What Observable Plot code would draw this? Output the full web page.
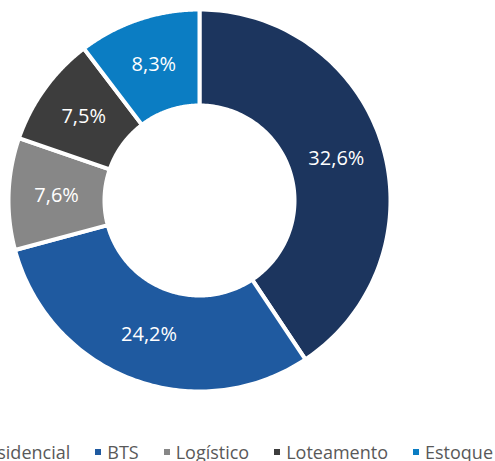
<!DOCTYPE html>
<html><head><meta charset="utf-8">
<script src="https://cdn.jsdelivr.net/npm/d3@7"></script>
<script src="https://cdn.jsdelivr.net/npm/@observablehq/plot@0.6"></script>
<style>
html,body{margin:0;padding:0;background:#fff;overflow:hidden;width:495px;height:461px;position:relative;font-family:"Open Sans",sans-serif}
#legend{position:absolute;right:2px;top:441px;width:max-content;display:flex;align-items:center;white-space:nowrap;font-size:18px;line-height:22px;color:#595959}
#legend .item{display:flex;align-items:center;margin-left:25px;flex:none}
#legend .sw{width:6px;height:6px;margin-right:6px;flex:none}
</style></head><body><div id="chart"></div><div id="legend"></div>
<script>
const categories = ["Residencial", "BTS", "Logístico", "Loteamento", "Estoque"];
const values = [32.6, 24.2, 7.6, 7.5, 8.3];
const labels = ["32,6%", "24,2%", "7,6%", "7,5%", "8,3%"];
const colors = ["#1c355e", "#1f5aa0", "#878787", "#3d3d3d", "#0b7dc3"];

const rOuter = 1, rInner = 95 / 191;
const pie = d3.pie().sort(null).value(d => d.value);
const arcs = pie(categories.map((c, i) => ({cat: c, value: values[i], label: labels[i]})));

const pts = [];
arcs.forEach(a => {
  const n = 120;
  for (let k = 0; k <= n; k++) {
    const t = a.startAngle + (a.endAngle - a.startAngle) * k / n;
    pts.push({cat: a.data.cat, x: rOuter * Math.sin(t), y: rOuter * Math.cos(t)});
  }
  for (let k = n; k >= 0; k--) {
    const t = a.startAngle + (a.endAngle - a.startAngle) * k / n;
    pts.push({cat: a.data.cat, x: rInner * Math.sin(t), y: rInner * Math.cos(t)});
  }
});
const rMid = (rOuter + rInner) / 2;
const lab = arcs.map(a => {
  const t = (a.startAngle + a.endAngle) / 2;
  return {label: a.data.label, x: rMid * Math.sin(t), y: rMid * Math.cos(t)};
});

const chart = Plot.plot({
  width: 495, height: 420,
  margin: 0,
  style: {background: "#fff"},
  x: {domain: [-1, 1], range: [199 - 191, 199 + 191], axis: null},
  y: {domain: [-1, 1], range: [200 + 191, 200 - 191], axis: null},
  color: {domain: categories, range: colors},
  marks: [
    Plot.line(pts, {x: "x", y: "y", z: "cat", fill: "cat", stroke: "#fff", strokeWidth: 4, curve: "linear-closed"}),
    Plot.text(lab, {x: "x", y: "y", text: "label", fill: "#fff", fontSize: 20, fontFamily: "Open Sans"})
  ]
});
document.getElementById("chart").append(chart);

const lg = document.getElementById("legend");
categories.forEach((c, i) => {
  const it = document.createElement("div");
  it.className = "item";
  const sw = document.createElement("span");
  sw.className = "sw";
  sw.style.background = colors[i];
  const tx = document.createElement("span");
  tx.textContent = c;
  it.append(sw, tx);
  lg.append(it);
});
</script></body></html>
